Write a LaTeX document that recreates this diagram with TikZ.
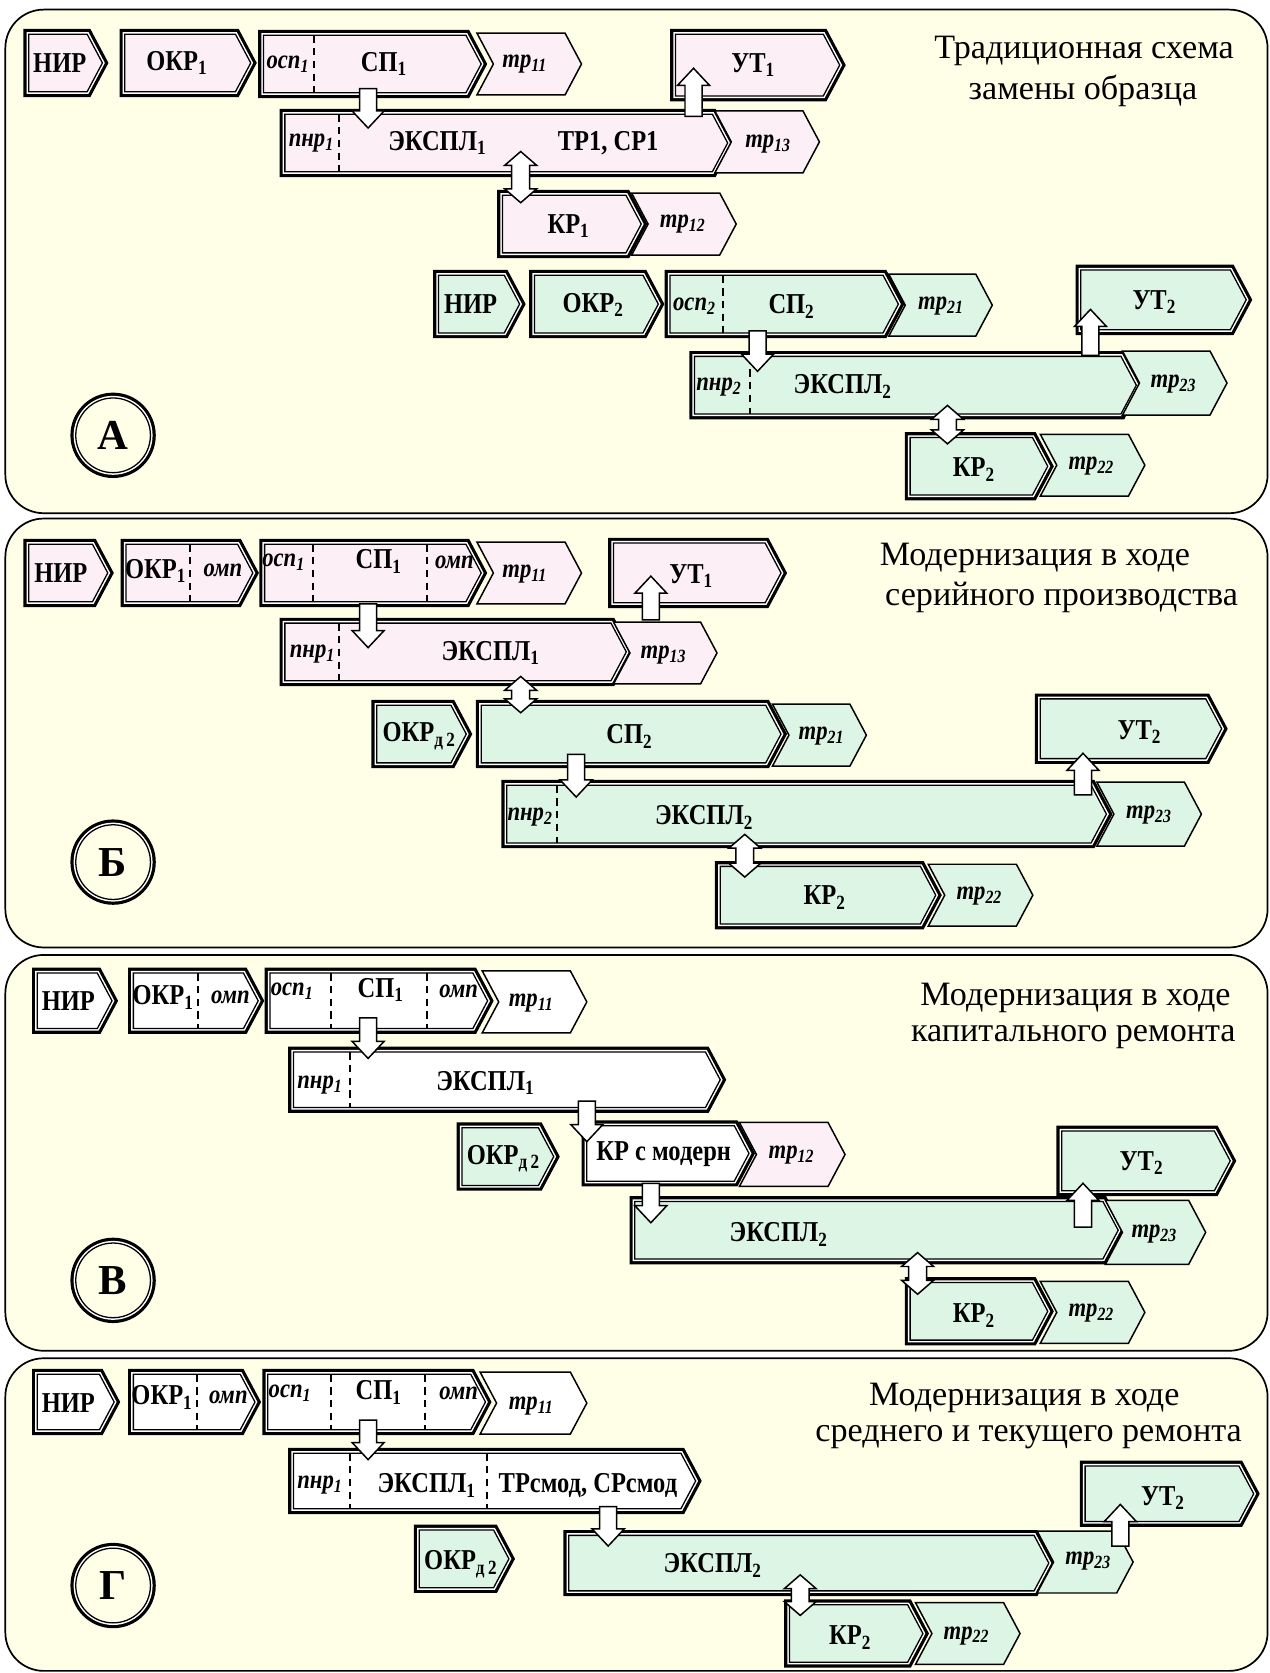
\documentclass[tikz,border=0pt]{standalone}
\usepackage{fontspec}
\setmainfont{Liberation Serif}
\newfontfamily\lblfont{Liberation Serif}[FakeStretch=0.85]
\usetikzlibrary{shapes.symbols,calc}

\definecolor{panelbg}{RGB}{255,255,231}
\definecolor{pinkfill}{RGB}{253,239,246}
\definecolor{greenfill}{RGB}{220,245,229}

\tikzset{
  panel/.style={draw=black, line width=0.8pt, fill=panelbg, rounded corners=18pt},
  dblbox/.style={signal, signal to=east, signal pointer angle=124, draw=black,
    line width=0.6pt, inner sep=0pt, outer sep=0pt, line join=miter,
    preaction={draw=black, line width=5pt, line join=miter},
    preaction={draw=white, line width=2pt, line join=miter}},
  trshape/.style={signal, signal to=east, signal from=west, signal pointer angle=124,
    draw=black, line width=0.7pt, inner sep=0pt, outer sep=0pt},
  lbl/.style={font=\lblfont\bfseries\fontsize{13.5}{13.5}\selectfont, inner sep=0pt},
  ilbl/.style={font=\lblfont\bfseries\itshape\fontsize{12.5}{12.5}\selectfont, inner sep=0pt},
  ttl/.style={font=\fontsize{16}{16}\selectfont, inner sep=0pt},
  dblcircle/.style={circle, draw=black, line width=0.6pt, fill=panelbg, minimum size=35pt,
    inner sep=0pt, font=\bfseries\fontsize{20}{20}\selectfont,
    preaction={draw=black, line width=5pt},
    preaction={draw=white, line width=2pt}},
  sepline/.style={draw=black, line width=0.9pt, dash pattern=on 3.5pt off 2.5pt},
  blockarrow/.style={draw=black, fill=white, line width=0.7pt, line join=miter}
}

% double-bordered process arrow: name, left x, right x (tip), centre y, height, fill
% (the node centre is the middle of the rectangular body, so the tip depth is subtracted)
\newcommand\dbox[6]{\node[dblbox, fill=#6, minimum width={(#3-#2-10)*0.5pt},
  minimum height={(#5-10)*0.5pt}] (#1) at ({(#2+#3)/2-(#5-10)/4/tan(62)},#4) {};}
% thin chevron (transition stage): name, left x, right x, centre y, height, fill
\newcommand\trbox[6]{\node[trshape, fill=#6, minimum width={(#3-#2)*0.5pt},
  minimum height={#5*0.5pt}] (#1) at ({(#2+#3)/2},#4) {};}
% dashed divider inside a process arrow: x, node
\newcommand\dsep[2]{\draw[sepline] let \p0=(#1,0), \p1=(#2.north), \p2=(#2.south)
  in (\x0,\y1) -- (\x0,\y2);}
% vertical block arrow: x, from anchor, shift, to anchor, shift
\newcommand\sconn[5]{\draw[blockarrow] let \p0=(#1,0), \p1=($(#2)+(0,#3)$),
  \p2=($(#4)+(0,#5)$), \n1={(\y2-\y1)/abs(\y2-\y1)} in
  (\x0-4pt,\y1) -- (\x0-4pt,{\y2-(\n1)*8pt}) -- (\x0-7.5pt,{\y2-(\n1)*8pt}) -- (\x0,\y2)
  -- (\x0+7.5pt,{\y2-(\n1)*8pt}) -- (\x0+4pt,{\y2-(\n1)*8pt}) -- (\x0+4pt,\y1) -- cycle;}
% vertical double-headed block arrow
\newcommand\dconn[5]{\draw[blockarrow] let \p0=(#1,0), \p1=($(#2)+(0,#3)$),
  \p2=($(#4)+(0,#5)$), \n1={(\y2-\y1)/abs(\y2-\y1)} in
  (\x0,\y1) -- (\x0+7.5pt,{\y1+(\n1)*6.5pt}) -- (\x0+4.2pt,{\y1+(\n1)*6.5pt})
  -- (\x0+4.2pt,{\y2-(\n1)*6.5pt}) -- (\x0+7.5pt,{\y2-(\n1)*6.5pt}) -- (\x0,\y2)
  -- (\x0-7.5pt,{\y2-(\n1)*6.5pt}) -- (\x0-4.2pt,{\y2-(\n1)*6.5pt})
  -- (\x0-4.2pt,{\y1+(\n1)*6.5pt}) -- (\x0-7.5pt,{\y1+(\n1)*6.5pt}) -- cycle;}

\begin{document}
\begin{tikzpicture}[x=0.5pt,y=-0.5pt]
\useasboundingbox (0,0) rectangle (1190,1568);
\fill[white] (0,0) rectangle (1190,1568);

% ---------- panels ----------
\draw[panel] (5,9) rectangle (1188,481);
\draw[panel] (5,486) rectangle (1188,888);
\draw[panel] (5,895) rectangle (1188,1266);
\draw[panel] (5,1273) rectangle (1188,1566);

% ================= A: traditional replacement =================
\dbox{a-nir}{22}{101}{59}{64}{pinkfill}
\dbox{a-okr}{112}{240}{59}{64}{pinkfill}
\dbox{a-sp}{242}{456}{60}{64}{pinkfill}
\trbox{a-tr11}{447}{545}{60}{58}{pinkfill}
\dbox{a-ut}{628}{792}{61}{68}{pinkfill}
\dbox{a-ex}{262}{687}{134}{64}{pinkfill}
\trbox{a-tr13}{670}{768}{133}{58}{pinkfill}
\dbox{a-kr}{466}{606}{210}{64}{pinkfill}
\trbox{a-tr12}{592}{690}{210}{58}{pinkfill}
\dbox{a-nir2}{406}{492}{285}{64}{greenfill}
\dbox{a-okr2}{496}{622}{285}{64}{greenfill}
\dbox{a-sp2}{623}{847}{285}{64}{greenfill}
\trbox{a-tr21}{833}{930}{286}{58}{greenfill}
\dbox{a-ut2}{1008}{1173}{281}{66}{greenfill}
\dbox{a-ex2}{646}{1070}{361}{64}{greenfill}
\trbox{a-tr23}{1052}{1150}{359}{60}{greenfill}
\dbox{a-kr2}{848}{987}{437}{64}{greenfill}
\trbox{a-tr22}{975}{1073}{436}{58}{greenfill}

\dsep{294}{a-sp}
\dsep{318}{a-ex}
\dsep{678}{a-sp2}
\dsep{703}{a-ex2}

\node[lbl] (a-nir-t) at (56,59) {НИР};
\node[lbl] (a-okr-t) at (166,59) {ОКР\textsubscript{1}};
\node[ilbl] (a-sp-o) at (270,60) {осп\textsubscript{1}};
\node[lbl] (a-sp-t) at (360,60) {СП\textsubscript{1}};
\node[ilbl] (a-tr11-t) at (492,60) {тр\textsubscript{11}};
\node[lbl] (a-ut-t) at (706,61) {УТ\textsubscript{1}};
\node[ilbl] (a-ex-p) at (292,134) {пнр\textsubscript{1}};
\node[lbl] (a-ex-t) at (410,134) {ЭКСПЛ\textsubscript{1}};
\node[lbl] (a-ex-r) at (570,134) {ТР1, СР1};
\node[ilbl] (a-tr13-t) at (720,135) {тр\textsubscript{13}};
\node[lbl] (a-kr-t) at (533,212) {КР\textsubscript{1}};
\node[ilbl] (a-tr12-t) at (640,210) {тр\textsubscript{12}};
\node[lbl] (a-nir2-t) at (441,285) {НИР};
\node[lbl] (a-okr2-t) at (556,286) {ОКР\textsubscript{2}};
\node[ilbl] (a-sp2-o) at (651,287) {осп\textsubscript{2}};
\node[lbl] (a-sp2-t) at (742,287) {СП\textsubscript{2}};
\node[ilbl] (a-tr21-t) at (882,287) {тр\textsubscript{21}};
\node[lbl] (a-ut2-t) at (1082,283) {УТ\textsubscript{2}};
\node[ilbl] (a-ex2-p) at (674,363) {пнр\textsubscript{2}};
\node[lbl] (a-ex2-t) at (790,362) {ЭКСПЛ\textsubscript{2}};
\node[ilbl] (a-tr23-t) at (1100,360) {тр\textsubscript{23}};
\node[lbl] (a-kr2-t) at (913,440) {КР\textsubscript{2}};
\node[ilbl] (a-tr22-t) at (1023,437) {тр\textsubscript{22}};

\node[ttl] (a-title1) at (1016,48) {Традиционная схема};
\node[ttl] (a-title2) at (1015,85) {замены образца};
\node[dblcircle] (a-mark) at (106,408) {А};

\sconn{345}{a-sp.south}{-4}{a-ex.north}{13}
\sconn{650}{a-ex.north}{2}{a-ut.south}{-26}
\dconn{488}{a-ex.south}{-19}{a-kr.north}{7}
\sconn{710}{a-sp2.south}{-2}{a-ex2.north}{14}
\sconn{1022}{a-ex2.north}{-1}{a-ut2.south}{-19}
\dconn{888}{a-ex2.south}{-8}{a-kr2.north}{6}

% ================= Б: upgrade during serial production =================
\dbox{b-nir}{22}{106}{537}{64}{pinkfill}
\dbox{b-okr}{113}{242}{537}{64}{pinkfill}
\dbox{b-sp}{243}{456}{537}{64}{pinkfill}
\trbox{b-tr11}{447}{545}{537}{58}{pinkfill}
\dbox{b-ut}{570}{737}{537}{66}{pinkfill}
\dbox{b-ex}{262}{592}{611}{64}{pinkfill}
\trbox{b-tr13}{575}{672}{612}{58}{pinkfill}
\dbox{b-okrd}{348}{442}{688}{64}{greenfill}
\dbox{b-sp2}{446}{737}{688}{64}{greenfill}
\trbox{b-tr21}{724}{812}{689}{58}{greenfill}
\dbox{b-ut2}{970}{1150}{683}{66}{greenfill}
\dbox{b-ex2}{470}{1042}{763}{64}{greenfill}
\trbox{b-tr23}{1028}{1126}{763}{60}{greenfill}
\dbox{b-kr2}{670}{882}{839}{64}{greenfill}
\trbox{b-tr22}{870}{968}{839}{58}{greenfill}

\dsep{178}{b-okr}
\dsep{293}{b-sp}
\dsep{400}{b-sp}
\dsep{318}{b-ex}
\dsep{522}{b-ex2}

\node[lbl] (b-nir-t) at (57,537) {НИР};
\node[lbl] (b-okr-t) at (146,535) {ОКР\textsubscript{1}};
\node[ilbl] (b-okr-o) at (209,535) {омп};
\node[ilbl] (b-sp-o) at (266,527) {осп\textsubscript{1}};
\node[lbl] (b-sp-t) at (355,526) {СП\textsubscript{1}};
\node[ilbl] (b-sp-m) at (426,527) {омп};
\node[ilbl] (b-tr11-t) at (492,538) {тр\textsubscript{11}};
\node[lbl] (b-ut-t) at (648,540) {УТ\textsubscript{1}};
\node[ilbl] (b-ex-p) at (293,613) {пнр\textsubscript{1}};
\node[lbl] (b-ex-t) at (460,612) {ЭКСПЛ\textsubscript{1}};
\node[ilbl] (b-tr13-t) at (622,614) {тр\textsubscript{13}};
\node[lbl] (b-okrd-t) at (393,690) {ОКР\textsubscript{д\,2}};
\node[lbl] (b-sp2-t) at (590,690) {СП\textsubscript{2}};
\node[ilbl] (b-tr21-t) at (770,690) {тр\textsubscript{21}};
\node[lbl] (b-ut2-t) at (1068,686) {УТ\textsubscript{2}};
\node[ilbl] (b-ex2-p) at (497,766) {пнр\textsubscript{2}};
\node[lbl] (b-ex2-t) at (660,766) {ЭКСПЛ\textsubscript{2}};
\node[ilbl] (b-tr23-t) at (1077,764) {тр\textsubscript{23}};
\node[lbl] (b-kr2-t) at (773,841) {КР\textsubscript{2}};
\node[ilbl] (b-tr22-t) at (918,840) {тр\textsubscript{22}};

\node[ttl] (b-title1) at (970,523) {Модернизация в ходе};
\node[ttl] (b-title2) at (995,560) {серийного производства};
\node[dblcircle] (b-mark) at (106,808) {Б};

\sconn{345}{b-sp.south}{2}{b-ex.north}{23}
\sconn{610}{b-tr13.north}{-2}{b-ut.south}{-25}
\dconn{488}{b-ex.south}{-4}{b-sp2.north}{7}
\sconn{540}{b-sp2.south}{-8}{b-ex2.north}{11}
\sconn{1015}{b-ex2.north}{9}{b-ut2.south}{-5}
\dconn{698}{b-ex2.south}{-8}{b-kr2.north}{10}

% ================= В: upgrade during overhaul =================
\dbox{c-nir}{30}{110}{938}{62}{white}
\dbox{c-okr}{120}{247}{938}{62}{white}
\dbox{c-sp}{248}{462}{938}{62}{white}
\trbox{c-tr11}{452}{550}{939}{58}{white}
\dbox{c-ex}{270}{680}{1012}{62}{white}
\dbox{c-okrd}{428}{524}{1084}{64}{greenfill}
\dbox{c-krm}{545}{707}{1081}{62}{white}
\trbox{c-tr12}{693}{792}{1082}{60}{pinkfill}
\dbox{c-ut2}{990}{1158}{1088}{66}{greenfill}
\dbox{c-ex2}{590}{1053}{1153}{64}{greenfill}
\trbox{c-tr23}{1036}{1130}{1155}{60}{greenfill}
\dbox{c-kr2}{848}{987}{1229}{64}{greenfill}
\trbox{c-tr22}{975}{1073}{1230}{58}{greenfill}

\dsep{186}{c-okr}
\dsep{310}{c-sp}
\dsep{400}{c-sp}
\dsep{328}{c-ex}

\node[lbl] (c-nir-t) at (64,938) {НИР};
\node[lbl] (c-okr-t) at (153,935) {ОКР\textsubscript{1}};
\node[ilbl] (c-okr-o) at (216,935) {омп};
\node[ilbl] (c-sp-o) at (274,929) {осп\textsubscript{1}};
\node[lbl] (c-sp-t) at (357,928) {СП\textsubscript{1}};
\node[ilbl] (c-sp-m) at (430,929) {омп};
\node[ilbl] (c-tr11-t) at (498,940) {тр\textsubscript{11}};
\node[ilbl] (c-ex-p) at (300,1017) {пнр\textsubscript{1}};
\node[lbl] (c-ex-t) at (455,1015) {ЭКСПЛ\textsubscript{1}};
\node[lbl] (c-okrd-t) at (472,1086) {ОКР\textsubscript{д\,2}};
\node[lbl] (c-krm-t) at (622,1082) {КР с модерн};
\node[ilbl] (c-tr12-t) at (742,1083) {тр\textsubscript{12}};
\node[lbl] (c-ut2-t) at (1070,1090) {УТ\textsubscript{2}};
\node[lbl] (c-ex2-t) at (730,1157) {ЭКСПЛ\textsubscript{2}};
\node[ilbl] (c-tr23-t) at (1082,1157) {тр\textsubscript{23}};
\node[lbl] (c-kr2-t) at (913,1233) {КР\textsubscript{2}};
\node[ilbl] (c-tr22-t) at (1023,1231) {тр\textsubscript{22}};

\node[ttl] (c-title1) at (1008,935) {Модернизация в ходе};
\node[ttl] (c-title2) at (1006,972) {капитального ремонта};
\node[dblcircle] (c-mark) at (106,1200) {В};

\sconn{345}{c-sp.south}{-10}{c-ex.north}{6}
\sconn{550}{c-ex.south}{-6}{c-krm.north}{15}
\sconn{610}{c-krm.south}{2}{c-ex2.north}{20}
\sconn{1015}{c-ex2.north}{24}{c-ut2.south}{-7}
\dconn{860}{c-ex2.south}{-6}{c-kr2.north}{11}

% ================= Г: upgrade during medium and running repair =================
\dbox{d-nir}{30}{112}{1314}{62}{white}
\dbox{d-okr}{120}{244}{1314}{62}{white}
\dbox{d-sp}{246}{460}{1314}{62}{white}
\trbox{d-tr11}{450}{550}{1315}{58}{white}
\dbox{d-ex}{270}{657}{1388}{62}{white}
\dbox{d-okrd}{388}{482}{1461}{64}{greenfill}
\dbox{d-ex2}{528}{988}{1465}{62}{greenfill}
\trbox{d-tr23}{972}{1062}{1464}{58}{greenfill}
\dbox{d-ut2}{1012}{1180}{1400}{62}{greenfill}
\dbox{d-kr2}{735}{870}{1531}{64}{greenfill}
\trbox{d-tr22}{858}{956}{1531}{58}{greenfill}

\dsep{185}{d-okr}
\dsep{310}{d-sp}
\dsep{398}{d-sp}
\dsep{328}{d-ex}
\dsep{456}{d-ex}

\node[lbl] (d-nir-t) at (64,1315) {НИР};
\node[lbl] (d-okr-t) at (152,1310) {ОКР\textsubscript{1}};
\node[ilbl] (d-okr-o) at (214,1310) {омп};
\node[ilbl] (d-sp-o) at (272,1306) {осп\textsubscript{1}};
\node[lbl] (d-sp-t) at (355,1305) {СП\textsubscript{1}};
\node[ilbl] (d-sp-m) at (430,1306) {омп};
\node[ilbl] (d-tr11-t) at (498,1318) {тр\textsubscript{11}};
\node[ilbl] (d-ex-p) at (300,1392) {пнр\textsubscript{1}};
\node[lbl] (d-ex-t) at (400,1392) {ЭКСПЛ\textsubscript{1}};
\node[lbl] (d-ex-r) at (551,1392) {ТРсмод, СРсмод};
\node[lbl] (d-okrd-t) at (432,1466) {ОКР\textsubscript{д\,2}};
\node[lbl] (d-ex2-t) at (668,1467) {ЭКСПЛ\textsubscript{2}};
\node[ilbl] (d-tr23-t) at (1020,1463) {тр\textsubscript{23}};
\node[lbl] (d-ut2-t) at (1090,1404) {УТ\textsubscript{2}};
\node[lbl] (d-kr2-t) at (797,1535) {КР\textsubscript{2}};
\node[ilbl] (d-tr22-t) at (906,1533) {тр\textsubscript{22}};

\node[ttl] (d-title1) at (960,1310) {Модернизация в ходе};
\node[ttl] (d-title2) at (964,1347) {среднего и текущего ремонта};
\node[dblcircle] (d-mark) at (106,1486) {Г};

\sconn{345}{d-sp.south}{-9}{d-ex.north}{6}
\sconn{570}{d-ex.south}{-2}{d-ex2.north}{10}
\sconn{1050}{d-tr23.north}{14}{d-ut2.south}{-16}
\dconn{750}{d-ex2.south}{-15}{d-kr2.north}{10}
\end{tikzpicture}
\end{document}
